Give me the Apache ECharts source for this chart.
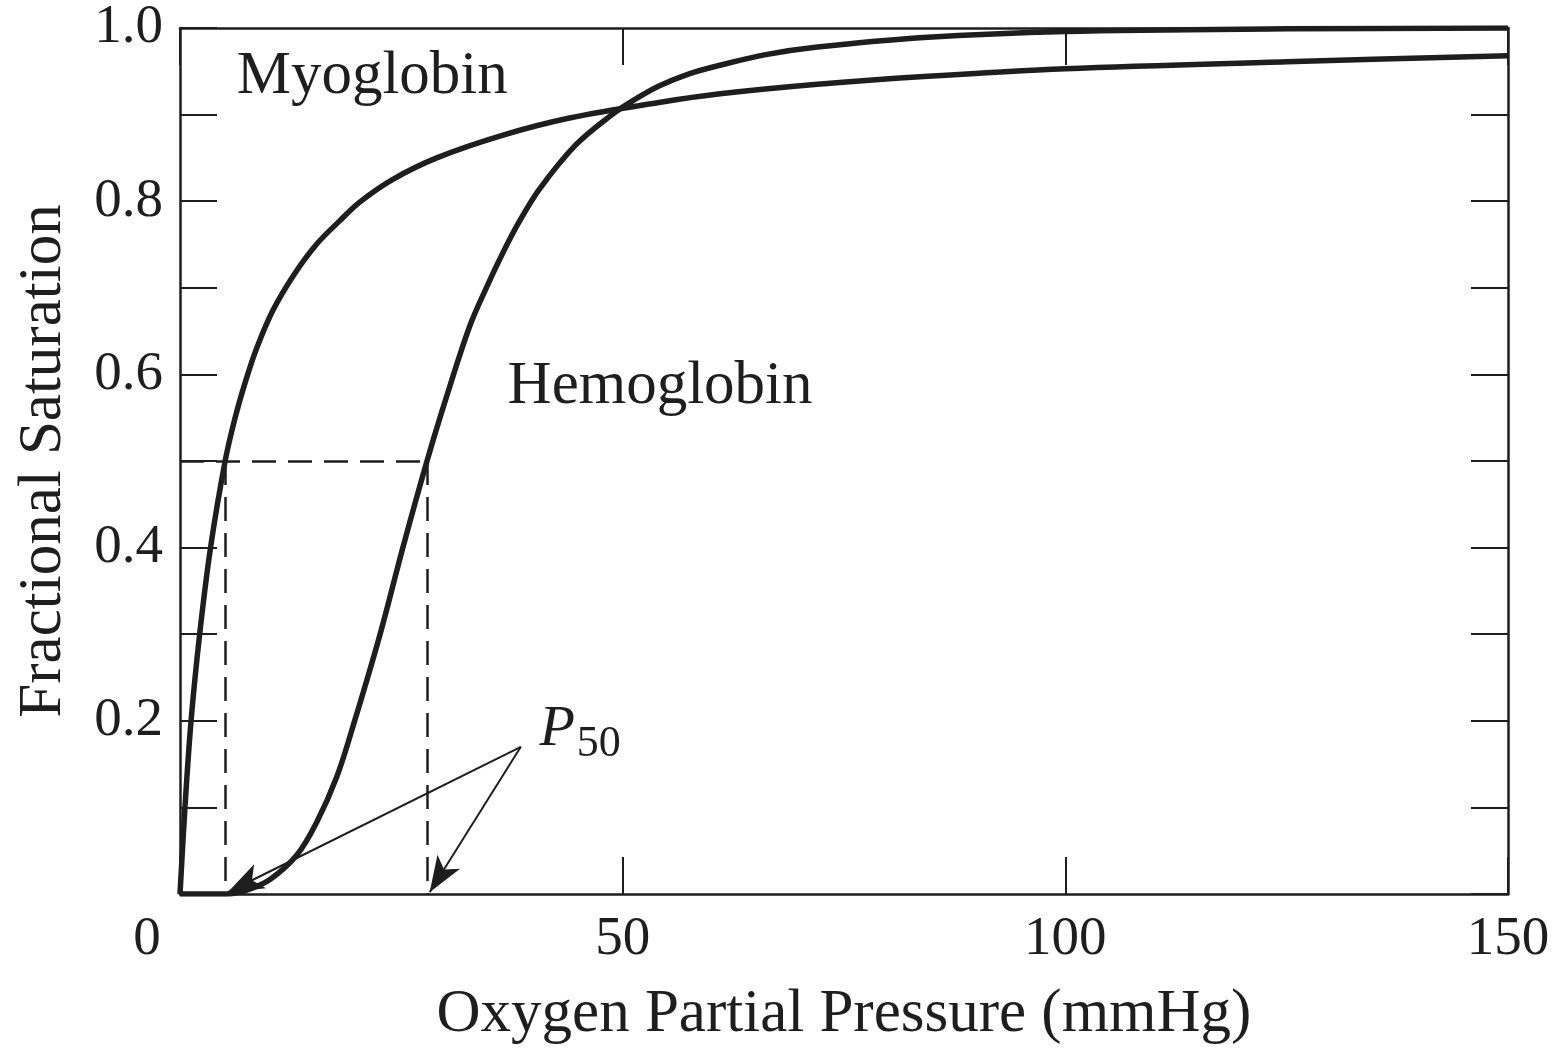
<!DOCTYPE html>
<html>
<head>
<meta charset="utf-8">
<script src="https://cdn.jsdelivr.net/npm/echarts@6/dist/echarts.min.js"></script>
<style>
html,body{margin:0;padding:0;background:#ffffff;}
#chart{width:1562px;height:1049px;}
</style>
</head>
<body>
<div id="chart"></div>
<script>
// ---- data ----
const xTickValues = [0, 50, 100, 150];
const yTickValues = [0, 0.2, 0.4, 0.6, 0.8, 1.0];

const myoglobinPO2 = [0, 0.56, 1.25, 2.22, 3.45, 5.1, 6.2, 7.4, 8.65, 10.5, 12.8, 15.4, 18.0, 20.3, 24, 29, 36.4, 44, 54.1, 61, 72, 84, 100, 125, 150];
const myoglobinSat = [0, 0.1, 0.2, 0.3, 0.4, 0.5, 0.549, 0.592, 0.630, 0.674, 0.714, 0.750, 0.777, 0.799, 0.825, 0.85, 0.876, 0.896, 0.914, 0.924, 0.935, 0.944, 0.953, 0.961, 0.968];

const hemoglobinPO2 = [0, 5.3, 7.7, 10.2, 13.2, 15.4, 17.7, 19.7, 22.6, 25.2, 27.9, 30.1, 32.7, 34.6, 36.5, 38.3, 40.6, 44.7, 48.8, 51.3, 54.1, 57.5, 61, 66, 72, 84, 100, 125, 150];
const hemoglobinSat = [0, 0, 0.005, 0.017, 0.045, 0.082, 0.135, 0.199, 0.3, 0.401, 0.5, 0.574, 0.655, 0.700, 0.741, 0.776, 0.814, 0.865, 0.9, 0.917, 0.933, 0.947, 0.957, 0.969, 0.978, 0.989, 0.996, 0.999, 1.0];

const p50Names = ['Myoglobin', 'Hemoglobin'];
const p50Values = [5.1, 27.9];
const halfSaturation = 0.5;

// ---- styling ----
const FONT = 'Liberation Serif';
const INK = '#1e1e1e';

function pairs(xs, ys) { return xs.map((x, i) => [x, ys[i]]); }

const chart = echarts.init(document.getElementById('chart'), null, {renderer: 'canvas'});

const axisLineStyle = {color: INK, width: 2.5};
const tickStyle = {color: INK, width: 2};

const option = {
  animation: false,
  backgroundColor: '#ffffff',
  grid: {left: 180, right: 54, top: 28, bottom: 155, outerBoundsMode: 'none', containLabel: false},
  xAxis: [
    {
      type: 'value', min: xTickValues[0], max: xTickValues[xTickValues.length - 1],
      interval: xTickValues[1] - xTickValues[0], position: 'bottom',
      axisLine: {show: true, onZero: false, lineStyle: axisLineStyle},
      axisTick: {show: true, inside: true, length: 37, lineStyle: tickStyle},
      splitLine: {show: false},
      axisLabel: {
        margin: 18, fontSize: 55, fontFamily: FONT, color: INK,
        formatter: v => v === 0 ? '{o|0}' : String(v),
        rich: {o: {fontSize: 55, fontFamily: FONT, color: INK, padding: [0, 66, 0, 0]}}
      },
      name: 'Oxygen Partial Pressure (mmHg)', nameLocation: 'middle', nameGap: 90,
      nameTextStyle: {fontSize: 61, fontFamily: FONT, color: INK}
    },
    {
      type: 'value', min: xTickValues[0], max: xTickValues[xTickValues.length - 1],
      interval: xTickValues[1] - xTickValues[0], position: 'top',
      axisLine: {show: true, onZero: false, lineStyle: axisLineStyle},
      axisTick: {show: true, inside: true, length: 37, lineStyle: tickStyle},
      splitLine: {show: false}, axisLabel: {show: false}
    }
  ],
  yAxis: [
    {
      type: 'value', min: 0, max: 1, interval: 0.1, position: 'left',
      axisLine: {show: true, onZero: false, lineStyle: axisLineStyle},
      axisTick: {show: true, inside: true, length: 37, lineStyle: tickStyle},
      splitLine: {show: false},
      axisLabel: {
        margin: 17, fontSize: 55, fontFamily: FONT, color: INK,
        formatter: v => {
          const k = Math.round(v * 10);
          return yTickValues.some(t => Math.round(t * 10) === k) && k > 0 ? (k / 10).toFixed(1) : '';
        }
      },
      name: 'Fractional Saturation', nameLocation: 'middle', nameGap: 106, nameRotate: 90,
      nameTextStyle: {fontSize: 61, fontFamily: FONT, color: INK}
    },
    {
      type: 'value', min: 0, max: 1, interval: 0.1, position: 'right',
      axisLine: {show: true, onZero: false, lineStyle: axisLineStyle},
      axisTick: {show: true, inside: true, length: 37, lineStyle: tickStyle},
      splitLine: {show: false}, axisLabel: {show: false}
    }
  ],
  series: [
    {
      name: 'Myoglobin', type: 'line', xAxisIndex: 0, yAxisIndex: 0,
      data: pairs(myoglobinPO2, myoglobinSat),
      showSymbol: false, symbol: 'none', smooth: 0.35, z: 5,
      lineStyle: {color: INK, width: 5.5},
      markPoint: {
        silent: true, symbol: 'circle', symbolSize: 0,
        data: [{
          coord: [6.4, 0.944],
          label: {show: true, position: 'right', distance: 0, formatter: 'Myoglobin',
                  fontSize: 61, fontFamily: FONT, color: INK}
        }]
      }
    },
    {
      name: 'Hemoglobin', type: 'line', xAxisIndex: 0, yAxisIndex: 0,
      data: pairs(hemoglobinPO2, hemoglobinSat),
      showSymbol: false, symbol: 'none', smooth: 0.35, z: 5,
      lineStyle: {color: INK, width: 5.5},
      markPoint: {
        silent: true, symbol: 'circle', symbolSize: 0,
        data: [
          {
            coord: [37.0, 0.585],
            label: {show: true, position: 'right', distance: 0, formatter: 'Hemoglobin',
                    fontSize: 61, fontFamily: FONT, color: INK}
          },
          {
            coord: [40.6, 0.19],
            label: {show: true, position: 'right', distance: 0, formatter: '{p|P}{s|50}',
                    color: INK,
                    rich: {
                      p: {fontSize: 58, fontFamily: FONT, fontStyle: 'italic', color: INK},
                      s: {fontSize: 44, fontFamily: FONT, color: INK, padding: [30, 0, 0, 2]}
                    }}
          }
        ]
      },
      markLine: {
        silent: true, symbol: ['none', 'none'],
        label: {show: false},
        lineStyle: {color: INK, width: 2.5, type: [24, 12]},
        data: [
          [{coord: [0, halfSaturation]}, {coord: [p50Values[1], halfSaturation]}],
          [{coord: [p50Values[0], halfSaturation]}, {coord: [p50Values[0], 0]}],
          [{coord: [p50Values[1], halfSaturation]}, {coord: [p50Values[1], 0]}]
        ]
      }
    },
    {
      name: 'P50 arrows', type: 'line', xAxisIndex: 0, yAxisIndex: 0,
      data: [], z: 6,
      markLine: {
        silent: true,
        symbol: ['none', 'arrow'],
        label: {show: false},
        lineStyle: {color: INK, width: 2, type: 'solid'},
        data: p50Values.map(v => [
          {coord: [38.5, 0.17], symbol: 'none'},
          {coord: [v + 0.3, 0.002], symbol: 'arrow', symbolSize: [20, 36]}
        ])
      }
    }
  ]
};

chart.setOption(option);
</script>
</body>
</html>
